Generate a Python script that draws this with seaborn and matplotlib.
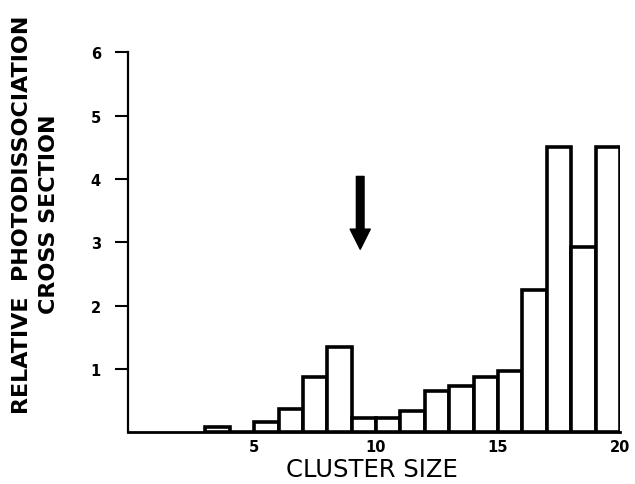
import matplotlib
matplotlib.use("Agg")
import matplotlib.pyplot as plt
import matplotlib.transforms as mtransforms
import seaborn as sns
import pandas as pd

# ---- data ----
cluster_size = [4, 5, 6, 7, 8, 9, 10, 11, 12, 13, 14, 15, 16, 17, 18, 19, 20]
cross_section = [0.09, 0.0, 0.17, 0.37, 0.88, 1.34, 0.22, 0.22, 0.33, 0.65,
                 0.73, 0.88, 0.97, 2.25, 4.51, 2.93, 4.51]
x_ticks = [5, 10, 15, 20]
x_tick_labels = ["5", "10", "15", "20"]
y_ticks = [1, 2, 3, 4, 5, 6]
y_tick_labels = ["1", "2", "3", "4", "5", "6"]
arrow_x = 9.85
arrow_from = 4.04
arrow_to = 2.89

xlabel = "CLUSTER SIZE"
ylabel = "RELATIVE  PHOTODISSOCIATION\nCROSS SECTION"

sns.set_theme(style="white")
plt.rcParams["font.family"] = ["DejaVu Sans"]

df = pd.DataFrame({"size": cluster_size, "value": cross_section})

fig = plt.figure(figsize=(6.35, 4.85), dpi=100)
ax = fig.add_axes([128 / 635, 1 - 433.3 / 485, 492 / 635, 380 / 485])

sns.barplot(data=df, x="size", y="value", native_scale=True, width=1.0,
            color="white", edgecolor="black", linewidth=2.6, errorbar=None,
            saturation=1, ax=ax)
for p in ax.patches:
    p.set_facecolor("white")
    p.set_edgecolor("black")
    p.set_joinstyle("miter")

ax.set_xlim(0.33, 20.5)
ax.set_ylim(0, 6)

ax.set_xticks(x_ticks)
ax.set_xticklabels(x_tick_labels, fontsize=10.5, fontweight="bold")
ax.set_yticks(y_ticks)
ax.set_yticklabels(y_tick_labels, fontsize=10.5, fontweight="bold")

ax.tick_params(axis="x", length=0, pad=5, colors="black")
ax.tick_params(axis="y", direction="out", length=9.5, width=1.5, pad=10,
               colors="black", left=True)
offset = mtransforms.ScaledTranslation(12 / 100, 0, fig.dpi_scale_trans)
for lab in ax.get_xticklabels():
    lab.set_transform(lab.get_transform() + offset)

for side in ["top", "right"]:
    ax.spines[side].set_visible(False)
ax.spines["left"].set_linewidth(1.6)
ax.spines["bottom"].set_linewidth(2.0)
ax.spines["left"].set_color("black")
ax.spines["bottom"].set_color("black")

ax.set_xlabel(xlabel, fontsize=17.5, color="black")
ax.xaxis.set_label_coords(0.496, -0.066)

ax.set_ylabel(ylabel, fontsize=16, fontweight="bold", color="black",
              ha="center", va="center", linespacing=1.4)
ax.yaxis.set_label_coords(-0.188, 0.576)

ax.annotate("", xy=(arrow_x, arrow_to), xytext=(arrow_x, arrow_from),
            arrowprops=dict(arrowstyle="simple,head_length=1.45,head_width=1.45,tail_width=0.55",
                            color="black", shrinkA=0, shrinkB=0, mutation_scale=10))

fig.savefig("out.png", dpi=100)
